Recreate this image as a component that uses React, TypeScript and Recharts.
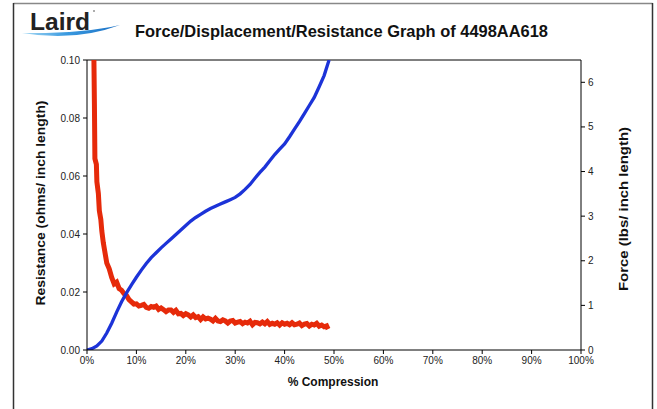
import React from "react";
import { LineChart, Line, XAxis, YAxis, ReferenceLine } from "recharts";

// % compression vs force (lbs / inch length)
const forceX = [0, 1, 2, 3, 4, 5, 6, 7, 8, 9, 10, 11, 12, 13, 14, 15, 16, 17, 18, 19, 20, 21, 22, 23, 24, 25, 26, 27, 28, 29, 30, 31, 32, 33, 34, 35, 36, 37, 38, 39, 40, 41, 42, 43, 44, 45, 46, 47, 48, 49];
const forceY = [0, 0.03, 0.09, 0.2, 0.38, 0.6, 0.85, 1.08, 1.28, 1.46, 1.63, 1.79, 1.94, 2.07, 2.18, 2.29, 2.39, 2.49, 2.59, 2.69, 2.79, 2.89, 2.97, 3.04, 3.11, 3.17, 3.22, 3.27, 3.32, 3.37, 3.42, 3.5, 3.6, 3.71, 3.85, 3.98, 4.1, 4.24, 4.38, 4.5, 4.62, 4.78, 4.95, 5.12, 5.3, 5.48, 5.66, 5.9, 6.15, 6.5];

// % compression vs resistance (ohms / inch length), noisy trace
const resX = [1.4, 1.5, 1.6, 1.9, 2.0, 2.3, 2.5, 2.8, 3.0, 3.3, 3.6, 4.0, 4.5, 5.0, 5.5, 6.0, 6.5, 7.0, 7.5, 8.0, 8.5, 9.0, 9.5, 10.0, 10.5, 11.0, 11.5, 12.0, 12.5, 13.0, 13.5, 14.0, 14.5, 15.0, 15.5, 16.0, 16.5, 17.0, 17.5, 18.0, 18.5, 19.0, 19.5, 20.0, 20.5, 21.0, 21.5, 22.0, 22.5, 23.0, 23.5, 24.0, 24.5, 25.0, 25.5, 26.0, 26.5, 27.0, 27.5, 28.0, 28.5, 29.0, 29.5, 30.0, 30.5, 31.0, 31.5, 32.0, 32.5, 33.0, 33.5, 34.0, 34.5, 35.0, 35.5, 36.0, 36.5, 37.0, 37.5, 38.0, 38.5, 39.0, 39.5, 40.0, 40.5, 41.0, 41.5, 42.0, 42.5, 43.0, 43.5, 44.0, 44.5, 45.0, 45.5, 46.0, 46.5, 47.0, 47.5, 48.0, 48.5, 48.8];
const resY = [
  0.1, 0.085, 0.066, 0.064, 0.058, 0.054, 0.048, 0.045, 0.041, 0.037, 0.034, 0.03, 0.028,
  0.025, 0.0228, 0.0234, 0.0212, 0.0206, 0.0194, 0.0188, 0.0174, 0.0166, 0.0158,
  0.0159, 0.0152, 0.0154, 0.0157, 0.0147, 0.0144, 0.015, 0.0147, 0.0151, 0.014,
  0.0145, 0.0139, 0.0132, 0.0138, 0.0138, 0.013, 0.0137, 0.0125, 0.0126, 0.0119,
  0.0125, 0.0121, 0.0114, 0.0121, 0.0112, 0.0115, 0.0105, 0.0114, 0.0107, 0.011,
  0.0106, 0.01, 0.0109, 0.01, 0.0098, 0.0104, 0.01, 0.0093, 0.01, 0.0102,
  0.0093, 0.0096, 0.0098, 0.0091, 0.0096, 0.0093, 0.0099, 0.0087, 0.0095, 0.0094,
  0.009, 0.0096, 0.009, 0.0098, 0.0088, 0.0092, 0.0089, 0.0094, 0.0086, 0.0094,
  0.0089, 0.0092, 0.0087, 0.0094, 0.0087, 0.0089, 0.0093, 0.0084, 0.0089, 0.0091,
  0.0083, 0.0089, 0.0086, 0.0092, 0.0082, 0.0086, 0.008, 0.0083, 0.0072,
];

const xTicks = [0, 10, 20, 30, 40, 50, 60, 70, 80, 90, 100];
const resTicks = [0, 0.02, 0.04, 0.06, 0.08, 0.1];
const forceTicks = [0, 1, 2, 3, 4, 5, 6];

const forceData = forceX.map((x, i) => ({ x, y: forceY[i] }));
const resData = resX.map((x, i) => ({ x, y: resY[i] }));

const FONT = "'Liberation Sans', Arial, Helvetica, sans-serif";
const tickStyle = { fontSize: 10, fill: "#222", fontFamily: FONT };

export default function App() {
  return (
    <div style={{ position: "absolute", left: 0, top: 0, width: 657, height: 409, background: "#fff", fontFamily: FONT }}>
      <LineChart width={657} height={409} margin={{ top: 60, right: 26, bottom: 29, left: 27 }}>
        <XAxis
          dataKey="x"
          type="number"
          domain={[0, 100]}
          ticks={xTicks}
          tickFormatter={(v: number) => `${v}%`}
          tick={tickStyle}
          stroke="#000"
          tickSize={4}
          tickMargin={3}
        />
        <YAxis
          yAxisId="left"
          width={60}
          domain={[0, 0.1]}
          ticks={resTicks}
          allowDataOverflow
          tickFormatter={(v: number) => v.toFixed(2)}
          tick={tickStyle}
          stroke="#000"
          tickSize={4}
          tickMargin={3}
        />
        <YAxis
          yAxisId="right"
          orientation="right"
          width={50}
          domain={[0, 6.5]}
          ticks={forceTicks}
          allowDataOverflow
          tick={tickStyle}
          stroke="#000"
          tickSize={4}
          tickMargin={3}
        />
        <ReferenceLine yAxisId="right" y={6.5} stroke="#000" strokeWidth={1} />
        <Line
          yAxisId="left"
          data={resData}
          dataKey="y"
          stroke="#e62a0a"
          strokeWidth={5}
          dot={false}
          isAnimationActive={false}
        />
        <Line
          yAxisId="right"
          data={forceData}
          dataKey="y"
          stroke="#1c33d8"
          strokeWidth={3.3}
          dot={false}
          isAnimationActive={false}
        />
      </LineChart>
      <svg width={657} height={409} style={{ position: "absolute", left: 0, top: 0, pointerEvents: "none" }}>
        {/* page frame */}
        <line x1={13.5} y1={3.5} x2={652.5} y2={3.5} stroke="#888" strokeWidth={1.5} />
        <line x1={13.5} y1={3} x2={13.5} y2={409} stroke="#333" strokeWidth={1.5} />
        <line x1={652.5} y1={3} x2={652.5} y2={409} stroke="#333" strokeWidth={1.5} />
        {/* logo */}
        <defs>
          <linearGradient id="swoosh" x1="0" y1="0" x2="1" y2="0">
            <stop offset="0" stopColor="#a8daf4" />
            <stop offset="0.45" stopColor="#3a9ae0" />
            <stop offset="1" stopColor="#1a6fc4" />
          </linearGradient>
        </defs>
        <text x={30} y={30} fontFamily={FONT} fontWeight="bold" fontSize={24.5} fill="#222" textLength={60} lengthAdjust="spacingAndGlyphs">
          Laird
        </text>
        <circle cx={94} cy={11} r={0.8} fill="#444" />
        <path d="M 22 33 Q 75 42 120 25 Q 80 34 22 33 Z" fill="url(#swoosh)" />
        <text x={135} y={37} fontFamily={FONT} fontWeight="bold" fontSize={16.5} fill="#111" textLength={413} lengthAdjust="spacingAndGlyphs">
          Force/Displacement/Resistance Graph of 4498AA618
        </text>
        {/* axis titles */}
        <text
          transform="translate(45,203) rotate(-90)"
          textAnchor="middle"
          fontFamily={FONT}
          fontWeight="bold"
          fontSize={12}
          fill="#111"
          textLength={205}
          lengthAdjust="spacingAndGlyphs"
        >
          Resistance (ohms/ inch length)
        </text>
        <text
          transform="translate(628,209) rotate(-90)"
          textAnchor="middle"
          fontFamily={FONT}
          fontWeight="bold"
          fontSize={12}
          fill="#111"
          textLength={164}
          lengthAdjust="spacingAndGlyphs"
        >
          Force (lbs/ inch length)
        </text>
        <text x={333} y={386} textAnchor="middle" fontFamily={FONT} fontWeight="bold" fontSize={12} fill="#111">
          % Compression
        </text>
      </svg>
    </div>
  );
}
